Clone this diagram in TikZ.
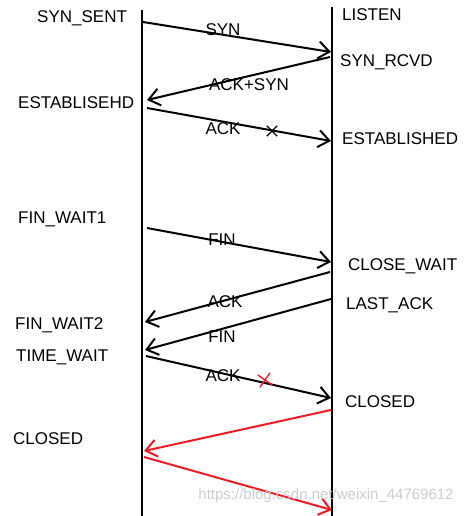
\documentclass[tikz,border=0pt]{standalone}
\usepackage{fontspec}
\setmainfont{Liberation Sans}
\usetikzlibrary{arrows.meta, shapes.misc, positioning}
\definecolor{red1}{RGB}{237,28,36}
\definecolor{gray1}{RGB}{205,205,205}

\begin{document}
\begin{tikzpicture}[x=1pt, y=-1pt,
    state/.style={font=\fontsize{17}{19}\selectfont, inner sep=0pt, anchor=west},
    msg/.style={font=\fontsize{17}{19}\selectfont, inner sep=0pt},
    timeline/.style={line width=2.4pt},
    sigarrow/.style={-{Straight Barb[length=11pt,width=17pt]}, line width=2pt},
    lostarrow/.style={sigarrow, color=red1},
    lost/.style={cross out, draw, line width=1.4pt, minimum size=11pt, inner sep=0pt}
]
    \useasboundingbox (0,0) rectangle (471,516);

    % time lines of client and server
    \coordinate (Ctop) at (142,10);
    \coordinate (Cbot) at (142,516);
    \coordinate (Stop) at (332,7);
    \coordinate (Sbot) at (332,516);
    \draw[timeline] (Ctop) -- (Cbot);
    \draw[timeline] (Stop) -- (Sbot);

    % end points of the messages
    \coordinate (c1) at (143,22);   \coordinate (s1) at (331,52);
    \coordinate (s2) at (330,57);   \coordinate (c2) at (147,100);
    \coordinate (c3) at (147,108);  \coordinate (s3) at (331,141);
    \coordinate (c4) at (147,228);  \coordinate (s4) at (331,262);
    \coordinate (s5) at (330,272);  \coordinate (c5) at (145,322);
    \coordinate (s6) at (331,299);  \coordinate (c6) at (145,350);
    \coordinate (c7) at (146,356);  \coordinate (s7) at (331,398);
    \coordinate (s8) at (331,410);  \coordinate (c8) at (144,451);
    \coordinate (c9) at (144,457);  \coordinate (s9) at (332,510);

    % states
    \node[state, name=synsent] at(37,18) {SYN\_SENT};
    \node[state, name=listen] at(342,15) {LISTEN};
    \node[state, name=synrcvd] at(340,62) {SYN\_RCVD};
    \node[state, name=estC] at(18,103) {ESTABLISEHD};
    \node[state, name=estS] at(342,139) {ESTABLISHED};
    \node[state, name=finwaitA] at(18,219) {FIN\_WAIT1};
    \node[state, name=closewait] at(348,266) {CLOSE\_WAIT};
    \node[state, name=lastack] at(346,305) {LAST\_ACK};
    \node[state, name=finwaitB] at(15,325) {FIN\_WAIT2};
    \node[state, name=timewait] at(16,357) {TIME\_WAIT};
    \node[state, name=closedS] at(345,402) {CLOSED};
    \node[state, name=closedC] at(13,439) {CLOSED};

    % messages
    \draw[sigarrow] (c1) -- (s1);
    \draw[sigarrow] (s2) -- (c2);
    \draw[sigarrow] (c3) -- (s3);
    \draw[sigarrow] (c4) -- (s4);
    \draw[sigarrow] (s5) -- (c5);
    \draw[sigarrow] (s6) -- (c6);
    \draw[sigarrow] (c7) -- (s7);
    \draw[lostarrow] (s8) -- (c8);
    \draw[lostarrow] (c9) -- (s9);

    \node[msg, name=syn] at(223,30) {SYN};
    \node[msg, name=acksyn] at(249,85) {ACK+SYN};
    \node[msg, name=ackA] at(223,129) {ACK};
    \node[msg, name=finA] at(222,240) {FIN};
    \node[msg, name=ackB] at(225,302) {ACK};
    \node[msg, name=finB] at(222,337) {FIN};
    \node[msg, name=ackC] at(223,376) {ACK};

    \node[lost, name=lostA, minimum size=9pt] at(272,131) {};
    \node[lost, name=lostB, draw=red1, rotate=10] at(265,380) {};

    \node[font=\fontsize{15}{17}\selectfont, text=gray1, inner sep=0pt, name=mark] at(326,496) {https://blog.csdn.net/weixin\_44769612};
\end{tikzpicture}
\end{document}
